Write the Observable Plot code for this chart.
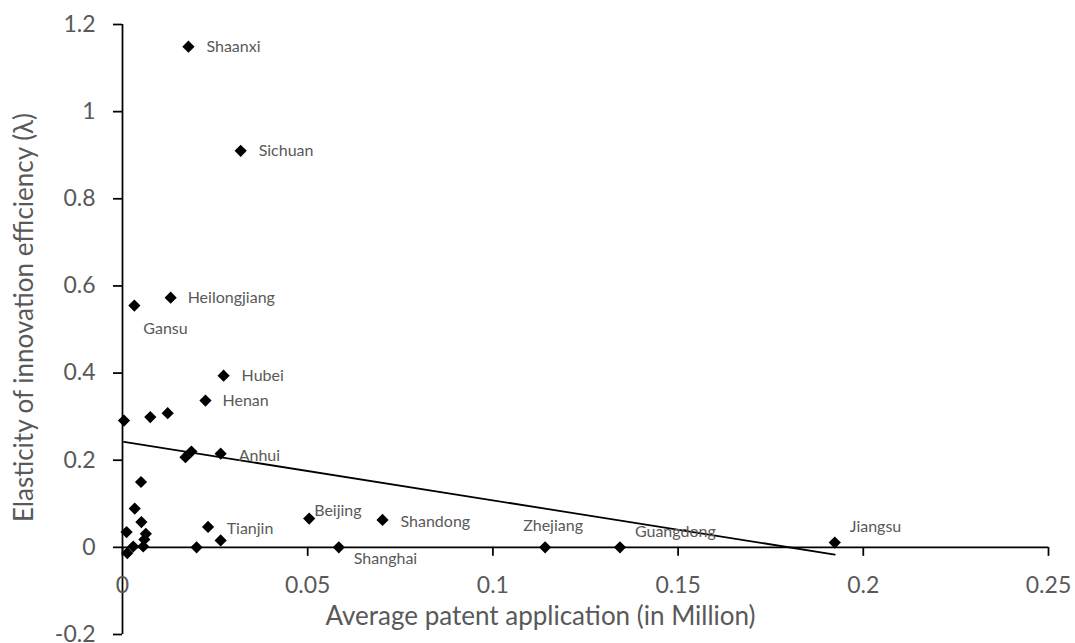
<!DOCTYPE html>
<html>
<head>
<meta charset="utf-8">
<script src="https://cdn.jsdelivr.net/npm/d3@7"></script>
<script src="https://cdn.jsdelivr.net/npm/@observablehq/plot@0.6"></script>
<style>
  html, body { margin: 0; padding: 0; background: #ffffff; }
  #chart { width: 1075px; height: 643px; }
</style>
</head>
<body>
<div id="chart"></div>
<script>
// Province labels ("" = unlabelled point)
const provinces = [
  "Shaanxi", "Sichuan", "Heilongjiang", "Gansu", "Hubei", "Henan",
  "", "", "", "", "", "Anhui",
  "", "", "", "", "", "", "", "", "", "", "",
  "Tianjin", "Beijing", "Shandong", "Shanghai", "Zhejiang", "Guangdong", "Jiangsu"
];
// Average patent application (in Million)
const patents = [
  0.0178, 0.0319, 0.0130, 0.0032, 0.0273, 0.0224,
  0.0004, 0.0075, 0.0122, 0.0170, 0.0186, 0.0265,
  0.0050, 0.0033, 0.0051, 0.0011, 0.0063, 0.0059, 0.0056, 0.0029, 0.0013, 0.0200, 0.0231,
  0.0265, 0.0504, 0.0702, 0.0584, 0.1141, 0.1343, 0.1923
];
// Elasticity of innovation efficiency (lambda)
const elasticity = [
  1.149, 0.910, 0.573, 0.555, 0.394, 0.337,
  0.291, 0.299, 0.308, 0.207, 0.220, 0.215,
  0.150, 0.089, 0.058, 0.035, 0.031, 0.018, 0.002, 0.002, -0.013, 0.000, 0.047,
  0.016, 0.066, 0.063, 0.000, 0.000, 0.000, 0.011
];
const xTicks = [0, 0.05, 0.1, 0.15, 0.2, 0.25];
const yTicks = [-0.2, 0, 0.2, 0.4, 0.6, 0.8, 1, 1.2];
const xTitle = "Average patent application (in Million)";
const yTitle = "Elasticity of innovation efficiency (\u03BB)";

const data = provinces.map((name, i) => ({name, x: patents[i], y: elasticity[i]}));

// label placement (pixel offsets from the marker)
const labelPlacement = {
  Shaanxi: [18, 0], Sichuan: [18, 0], Heilongjiang: [17, 0], Gansu: [9, 23],
  Hubei: [18, 0], Henan: [17, 0], Anhui: [18, 2], Tianjin: [6, -12],
  Beijing: [5, -8], Shandong: [18, 2], Shanghai: [15, 12], Zhejiang: [-22, -21],
  Guangdong: [15, -15], Jiangsu: [15, -16]
};

const fmt = d => String(+d.toFixed(2));
const gray = "#595959";

const labelMarks = Object.entries(labelPlacement).map(([name, [dx, dy]]) =>
  Plot.text(data.filter(d => d.name === name), {
    x: "x", y: "y", text: "name", dx, dy, textAnchor: "start",
    fontSize: 16, fill: gray
  })
);

const chart = Plot.plot({
  width: 1075,
  height: 643,
  marginLeft: 122,
  marginRight: 27,
  marginTop: 24,
  marginBottom: 9,
  style: {fontFamily: "Lato, 'Open Sans', sans-serif", background: "#ffffff"},
  x: {domain: [0, 0.25], axis: null},
  y: {domain: [-0.2, 1.2], axis: null},
  marks: [
    // axis lines
    Plot.ruleX([0], {y1: -0.2, y2: 1.2, stroke: "#000", strokeWidth: 1.75}),
    Plot.ruleY([0], {x1: 0, x2: 0.25, stroke: "#000", strokeWidth: 1.75}),
    // tick marks
    Plot.ruleY(yTicks, {y: d => d, x1: 0, x2: 0, insetLeft: -9, stroke: "#000", strokeWidth: 1.75}),
    Plot.ruleX(xTicks, {x: d => d, y1: 0, y2: 0, insetBottom: -9, stroke: "#000", strokeWidth: 1.75}),
    // tick labels
    Plot.text(yTicks, {x: 0, y: d => d, text: fmt, textAnchor: "end", dx: -27, fontSize: 23, fill: gray}),
    Plot.text(xTicks, {x: d => d, y: 0, text: fmt, dy: 38, fontSize: 23, fill: gray}),
    // axis titles
    Plot.text([xTitle], {frameAnchor: "bottom", textAnchor: "middle", dx: -45, dy: -10, fontSize: 26, fill: gray}),
    Plot.text([yTitle], {frameAnchor: "left", textAnchor: "middle", lineAnchor: "middle", rotate: -90, dx: -98, dy: -12, fontSize: 26, fill: gray}),
    // trend line
    Plot.linearRegressionY(data, {x: "x", y: "y", ci: 0, stroke: "#000", strokeWidth: 1.75}),
    // points
    Plot.dot(data, {x: "x", y: "y", symbol: "diamond2", r: 5.5, fill: "#000", stroke: "none"}),
    ...labelMarks
  ]
});
document.getElementById("chart").appendChild(chart);
</script>
</body>
</html>
